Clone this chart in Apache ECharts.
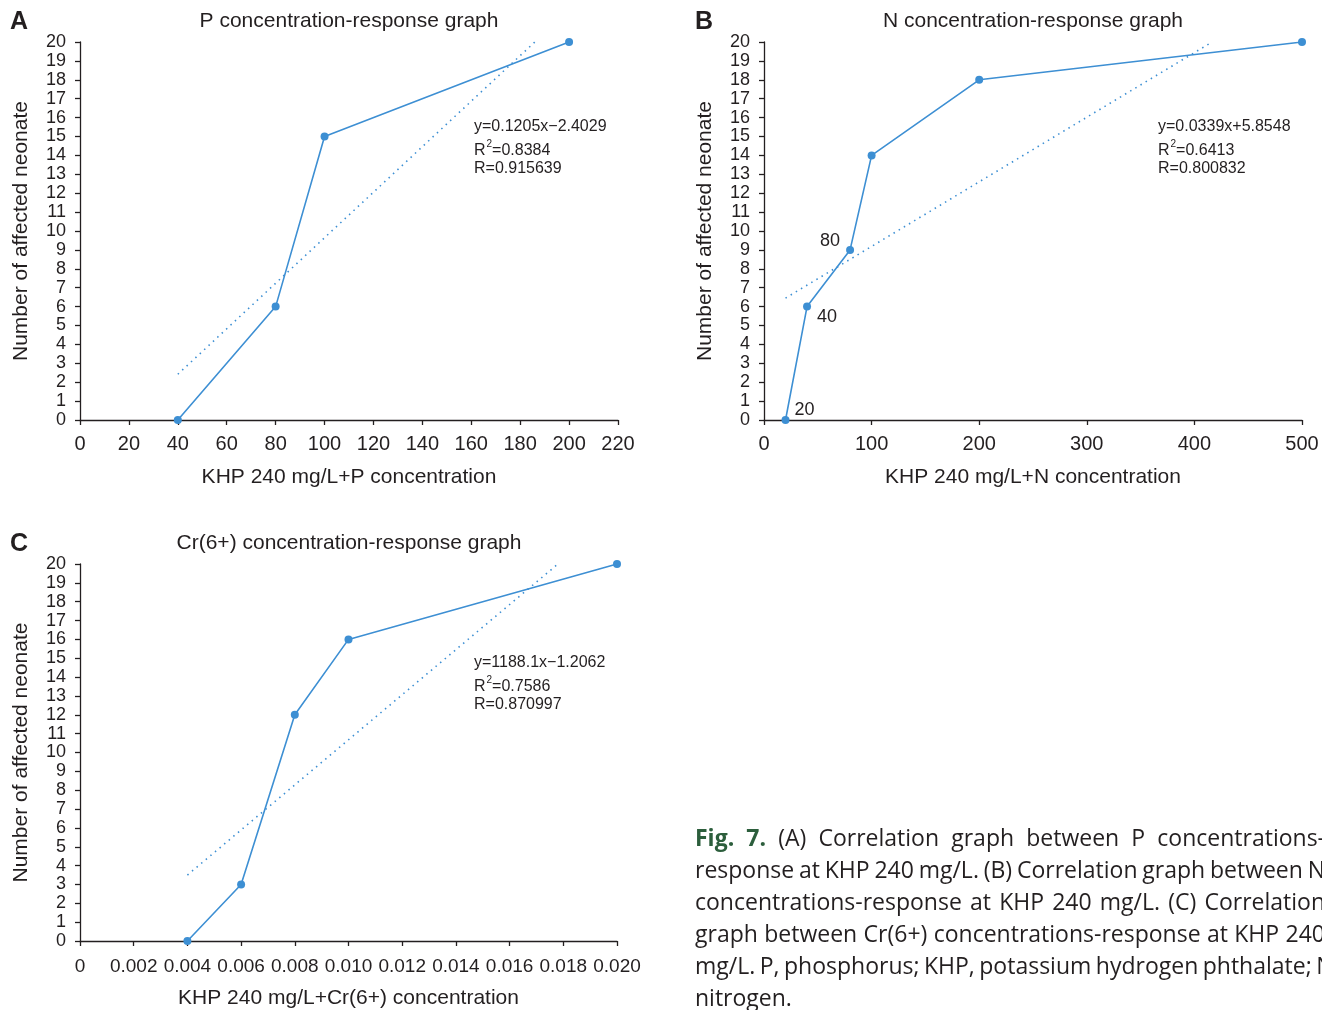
<!DOCTYPE html>
<html><head><meta charset="utf-8">
<script src="https://cdn.jsdelivr.net/npm/echarts@6/dist/echarts.min.js"></script>
<style>html,body{margin:0;padding:0;background:#fff}#c{width:1322px;height:1010px}</style>
</head><body><div id="c"></div>
<script>
// ---- data ----
const xA = [40, 80, 100, 200];
const yA = [0, 6, 15, 20];
const trendAx = [40, 186];
const trendAy = [2.42, 20.0];

const xB = [20, 40, 80, 100, 200, 500];
const yB = [0, 6, 9, 14, 18, 20];
const trendBx = [20, 415];
const trendBy = [6.45, 19.95];
const labelsB = ['20', '40', '80', '', '', ''];

const xC = [0.004, 0.006, 0.008, 0.010, 0.020];
const yC = [0, 3, 12, 16, 20];
const trendCx = [0.004, 0.0178];
const trendCy = [3.5, 20.0];

const titles = ['P concentration-response graph', 'N concentration-response graph', 'Cr(6+) concentration-response graph'];
const xNames = ['KHP 240 mg/L+P concentration', 'KHP 240 mg/L+N concentration', 'KHP 240 mg/L+Cr(6+) concentration'];
const yName = 'Number of affected neonate';
const eqA = ['y=0.1205x\u22122.4029', '0.8384', '0.915639'];
const eqB = ['y=0.0339x+5.8548', '0.6413', '0.800832'];
const eqC = ['y=1188.1x\u22121.2062', '0.7586', '0.870997'];
const captionLines = [
  'Fig. 7. (A) Correlation graph between P concentrations-',
  'response at KHP 240 mg/L. (B) Correlation graph between N',
  'concentrations-response at KHP 240 mg/L. (C) Correlation',
  'graph between Cr(6+) concentrations-response at KHP 240',
  'mg/L. P, phosphorus; KHP, potassium hydrogen phthalate; N,',
  'nitrogen.'
];

// ---- styles ----
const INK = '#231f20';
const BLUE = '#3d8fd3';
const FF = "'Liberation Sans', Arial, sans-serif";
const CAPF = "'Open Sans', 'DejaVu Sans', sans-serif";
const CAPSIZE = 23;

const zip = (a, b) => a.map((v, i) => [v, b[i]]);

function xAxisCfg(gi, min, max, interval, fmt) {
  return {
    gridIndex: gi, type: 'value', min, max, interval,
    name: xNames[gi], nameLocation: 'middle', nameGap: 47,
    nameTextStyle: { color: INK, fontSize: 21, fontFamily: FF },
    axisLine: { show: true, onZero: false, lineStyle: { color: INK, width: 1.3 } },
    axisTick: { show: true, length: 5, lineStyle: { color: INK, width: 1.3 } },
    axisLabel: { color: INK, fontSize: gi === 2 ? 19 : 20, fontFamily: FF, margin: gi === 2 ? 16 : 14, formatter: fmt, showMaxLabel: true, showMinLabel: true },
    splitLine: { show: false }
  };
}
function yAxisCfg(gi) {
  return {
    gridIndex: gi, type: 'value', min: 0, max: 20, interval: 1,
    name: yName, nameLocation: 'middle', nameGap: 48,
    nameTextStyle: { color: INK, fontSize: 21, fontFamily: FF },
    axisLine: { show: true, onZero: false, lineStyle: { color: INK, width: 1.3 } },
    axisTick: { show: true, length: 5, lineStyle: { color: INK, width: 1.3 } },
    axisLabel: { color: INK, fontSize: 18, fontFamily: FF, margin: 14 },
    splitLine: { show: false }
  };
}
function mainSeries(gi, xs, ys, labels) {
  return {
    type: 'line', xAxisIndex: gi, yAxisIndex: gi,
    data: xs.map((x, i) => {
      const d = { value: [x, ys[i]] };
      if (labels && labels[i]) {
        const pos = { '20': ['right', [0, -10]], '40': ['right', [1, 10]], '80': ['left', [-1, -9]] }[labels[i]];
        d.label = { show: true, formatter: labels[i], position: pos[0], offset: pos[1], color: INK, fontSize: 18, fontFamily: FF };
      }
      return d;
    }),
    symbol: 'circle', symbolSize: 8, showSymbol: true,
    lineStyle: { color: BLUE, width: 1.6 },
    itemStyle: { color: BLUE },
    label: { show: false },
    animation: false, silent: true, z: 3
  };
}
function trendSeries(gi, xs, ys) {
  return {
    type: 'line', xAxisIndex: gi, yAxisIndex: gi,
    data: zip(xs, ys), symbol: 'none',
    lineStyle: { color: BLUE, width: 1.6, type: [1.5, 4.5] },
    animation: false, silent: true, z: 2
  };
}
function eqTexts(x, y, eq) {
  const base = { fill: INK, font: '16px ' + FF, verticalAlign: 'middle' };
  return [
    { type: 'text', x, y, style: Object.assign({ text: eq[0] }, base) },
    { type: 'text', x, y: y + 22, style: Object.assign({
        text: '{r|R}{s|2}{r|=' + eq[1] + '}',
        rich: {
          r: { fontSize: 16, fontFamily: FF, fill: INK, verticalAlign: 'bottom', lineHeight: 20 },
          s: { fontSize: 10, fontFamily: FF, fill: INK, verticalAlign: 'top', lineHeight: 20, padding: [0, 0, 9, 1] }
        } }, base) },
    { type: 'text', x, y: y + 42, style: Object.assign({ text: 'R=' + eq[2] }, base) }
  ];
}
function titleText(cx, top, t) {
  return { type: 'text', x: cx, y: top, style: { text: t, fill: INK, font: '21px ' + FF, align: 'center', verticalAlign: 'top' } };
}
function letter(x, y, t) {
  return { type: 'text', x, y, style: { text: t, fill: INK, font: 'bold 25px ' + FF, verticalAlign: 'top' } };
}

// justified caption built word by word
function captionGraphics(x0, y0, width, lh) {
  const ctx = document.createElement('canvas').getContext('2d');
  const out = [];
  const reg = CAPSIZE + 'px ' + CAPF, bold = 'bold ' + CAPSIZE + 'px ' + CAPF;
  captionLines.forEach((line, li) => {
    const words = line.split(' ');
    const isBold = wi => li === 0 && wi < 2;
    const fonts = words.map((w, wi) => isBold(wi) ? bold : reg);
    const widths = words.map((w, wi) => { ctx.font = fonts[wi]; return ctx.measureText(w).width; });
    ctx.font = reg;
    const sp = ctx.measureText(' ').width;
    const sum = widths.reduce((a, b) => a + b, 0);
    const last = li === captionLines.length - 1;
    const gap = last ? sp : Math.max(sp * 0.75, (width - sum) / (words.length - 1));
    let x = x0;
    words.forEach((w, wi) => {
      out.push({ type: 'text', x, y: y0 + li * lh, style: {
        text: w, font: fonts[wi], fill: isBold(wi) ? '#2c5e3c' : INK, verticalAlign: 'middle'
      } });
      x += widths[wi] + gap;
    });
  });
  return out;
}

const option = {
  backgroundColor: '#fff',
  animation: false,
  grid: [
    { left: 80, top: 42, width: 538, height: 378 },
    { left: 764, top: 42, width: 538, height: 378 },
    { left: 80, top: 564, width: 537, height: 378 }
  ],
  xAxis: [
    xAxisCfg(0, 0, 220, 20),
    xAxisCfg(1, 0, 500, 100),
    xAxisCfg(2, 0, 0.02, 0.002, v => v === 0 ? '0' : v.toFixed(3))
  ],
  yAxis: [yAxisCfg(0), yAxisCfg(1), yAxisCfg(2)],
  series: [
    trendSeries(0, trendAx, trendAy), mainSeries(0, xA, yA),
    trendSeries(1, trendBx, trendBy), mainSeries(1, xB, yB, labelsB),
    trendSeries(2, trendCx, trendCy), mainSeries(2, xC, yC)
  ],
  graphic: [
    letter(10, 10, 'A'), letter(695, 10, 'B'), letter(10, 532, 'C'),
    titleText(349, 11, titles[0]), titleText(1033, 11, titles[1]), titleText(349, 533, titles[2]),
    ...eqTexts(474, 127, eqA), ...eqTexts(1158, 127, eqB), ...eqTexts(474, 663, eqC),
    ...captionGraphics(695, 839, 630, 32)
  ]
};
const chart = echarts.init(document.getElementById('c'), null, { renderer: 'canvas' });
chart.setOption(option);
</script></body></html>
